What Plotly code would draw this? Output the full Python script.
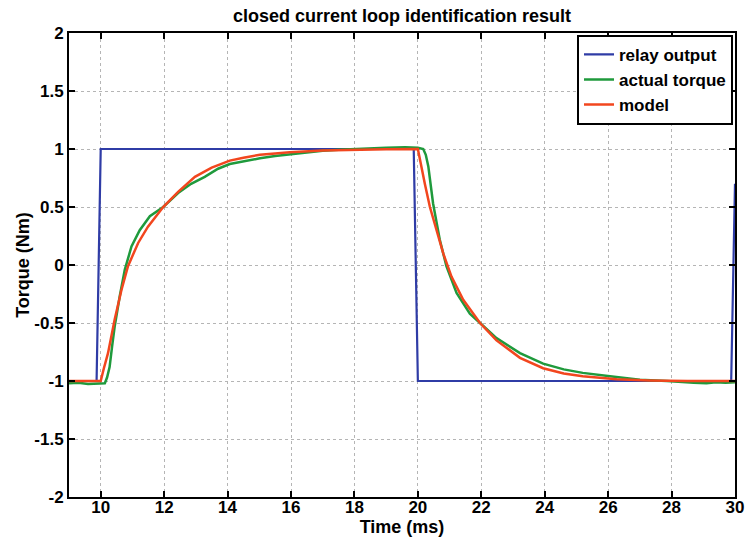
import plotly.graph_objects as go

# ---- data ----
relay_t = [9.0, 9.87, 10.0, 19.87, 20.0, 29.88, 30.0]
relay_y = [-1.0, -1.0, 1.0, 1.0, -1.0, -1.0, 0.7]

torque_t = [9.0, 9.3, 9.6, 9.9, 10.13, 10.2, 10.28, 10.36, 10.44, 10.6, 10.76, 10.97,
            11.23, 11.55, 11.97, 12.44, 12.85, 13.28, 13.7, 14.07, 14.5, 15.02, 15.5,
            16.0, 16.5, 17.0, 17.5, 18.0, 18.5, 19.0, 19.6, 20.0, 20.17, 20.25, 20.33,
            20.48, 20.69, 20.9, 21.22, 21.64, 21.96, 22.48, 23.22, 23.95, 24.6, 25.2,
            26.06, 27.0, 27.85, 28.3, 28.7, 29.1, 29.4, 29.7, 30.0]
torque_y = [-1.02, -1.015, -1.025, -1.02, -1.02, -0.97, -0.88, -0.7, -0.53, -0.27, -0.04, 0.16,
            0.30, 0.42, 0.50, 0.62, 0.70, 0.76, 0.83, 0.87, 0.895, 0.92, 0.94,
            0.957, 0.972, 0.985, 0.993, 1.0, 1.005, 1.01, 1.015, 1.01, 1.0, 0.95, 0.85,
            0.53, 0.22, -0.01, -0.24, -0.42, -0.50, -0.63, -0.76, -0.85, -0.9, -0.93,
            -0.96, -0.99, -1.0, -1.01, -1.015, -1.02, -1.01, -1.015, -1.01]

model_t = [9.0, 10.0, 10.1, 10.23, 10.44, 10.65, 10.86, 11.18, 11.49, 11.97, 12.44, 12.97,
           13.5, 14.07, 14.5, 15.02, 15.5, 15.96, 17.0, 18.0, 19.0, 20.0, 20.1, 20.22,
           20.38, 20.59, 20.8, 21.06, 21.43, 21.96, 22.48, 23.22, 23.95, 24.6, 25.2,
           26.27, 27.3, 28.5, 30.0]
model_y = [-1.0, -1.0, -0.89, -0.76, -0.47, -0.22, -0.01, 0.19, 0.33, 0.50, 0.63, 0.76,
           0.84, 0.90, 0.925, 0.95, 0.962, 0.972, 0.986, 0.993, 0.998, 1.0, 0.85, 0.70,
           0.50, 0.30, 0.10, -0.10, -0.30, -0.50, -0.65, -0.80, -0.89, -0.935, -0.96,
           -0.985, -0.995, -1.0, -1.0]

x_ticks = [10, 12, 14, 16, 18, 20, 22, 24, 26, 28, 30]
y_ticks = [-2, -1.5, -1, -0.5, 0, 0.5, 1, 1.5, 2]
y_tick_text = ["-2", "-1.5", "-1", "-0.5", "0", "0.5", "1", "1.5", "2"]

FONT = "Liberation Sans"

fig = go.Figure()
fig.add_trace(go.Scatter(x=relay_t, y=relay_y, mode="lines", name="relay output",
                         line=dict(color="#2f3ca6", width=2.2)))
fig.add_trace(go.Scatter(x=torque_t, y=torque_y, mode="lines", name="actual torque",
                         line=dict(color="#1f9a3c", width=2.5)))
fig.add_trace(go.Scatter(x=model_t, y=model_y, mode="lines", name="model",
                         line=dict(color="#f2461e", width=2.5)))

axis_common = dict(
    showline=True, linecolor="black", linewidth=2, mirror="allticks",
    ticks="inside", ticklen=6, tickwidth=1.5, tickcolor="black",
    showgrid=True, gridcolor="#b5b5b5", griddash="dot", gridwidth=1,
    zeroline=False, automargin=False, ticklabeloverflow="allow",
    tickfont=dict(family=FONT, size=17, color="black", weight="bold"),
)

fig.update_layout(
    width=745, height=544,
    margin=dict(l=69, r=10, t=33, b=47),
    paper_bgcolor="white", plot_bgcolor="white",
    title=dict(text="closed current loop identification result", xref="paper", x=0.5,
               xanchor="center", yref="container", y=0.972, yanchor="middle",
               automargin=False,
               font=dict(family=FONT, size=18, color="black", weight="bold")),
    xaxis=dict(range=[9, 30], tickvals=x_ticks, ticklabelstandoff=-6, **axis_common,
               title=dict(text="Time (ms)", standoff=0,
                          font=dict(family=FONT, size=18, color="black", weight="bold"))),
    yaxis=dict(range=[-2, 2], tickvals=y_ticks, ticktext=y_tick_text, **axis_common,
               title=dict(text="Torque (Nm)", standoff=0,
                          font=dict(family=FONT, size=18, color="black", weight="bold"))),
    legend=dict(x=0.997, y=0.996, xanchor="right", yanchor="top",
                bgcolor="white", bordercolor="black", borderwidth=2,
                font=dict(family=FONT, size=17, color="black", weight="bold"),
                tracegroupgap=0, itemwidth=30),
    showlegend=True,
)

# remove the default page margin so the 745x544 figure fills the window exactly
fig.write_html("out.html",
               config={"displayModeBar": False},
               post_script="document.body.style.margin='0px';document.body.style.overflow='hidden';")
